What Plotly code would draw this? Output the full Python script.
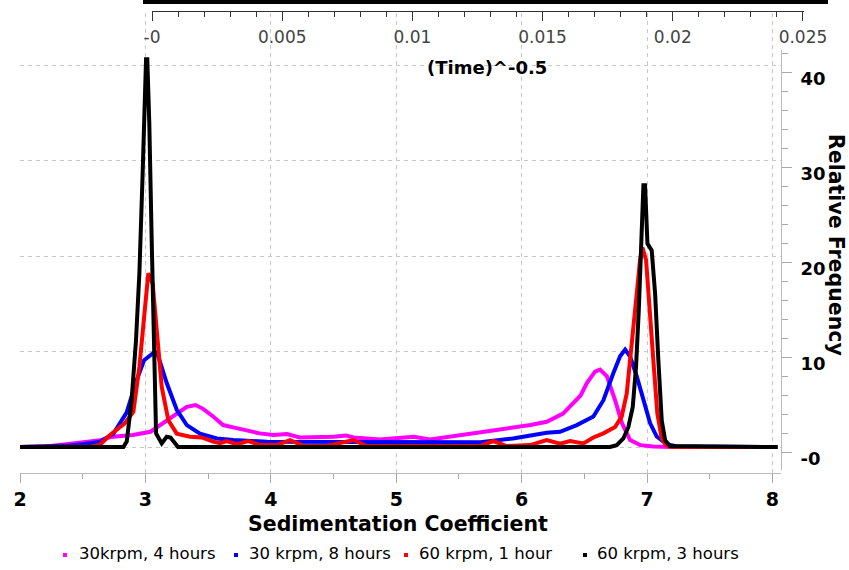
import plotly.graph_objects as go

W, H = 849, 570

# ---------------- data ----------------
series_names = ["30krpm, 4 hours", "30 krpm, 8 hours", "60 krpm, 1 hour", "60 krpm, 3 hours"]
series_colors = ["#ff00ff", "#0000ff", "#ff0000", "#000000"]

mag_x = [1.98, 2.2, 2.3, 2.4, 2.5, 2.64, 2.72, 2.8, 2.9, 3.04, 3.14, 3.25, 3.33, 3.40, 3.46, 3.54, 3.62, 3.70,
         3.81, 3.91, 4.02, 4.13, 4.23, 4.37, 4.5, 4.6, 4.66, 4.87, 5.14, 5.27, 5.54, 5.80, 6.07, 6.2, 6.33,
         6.41, 6.47, 6.52, 6.585, 6.625, 6.68, 6.745, 6.80, 6.865, 6.945, 7.05, 7.2, 8.04]
mag_y = [0, 0.05, 0.2, 0.35, 0.5, 0.7, 1.05, 1.1, 1.26, 1.6, 2.5, 3.5, 4.2, 4.4, 4.0, 3.2, 2.3, 2.06,
         1.78, 1.43, 1.26, 1.36, 1.0, 1.0, 1.08, 1.2, 1.0, 0.8, 1.08, 0.8, 1.26, 1.78, 2.3, 2.65, 3.5,
         4.6, 5.4, 6.7, 7.9, 8.1, 7.4, 4.9, 2.5, 0.73, 0.2, 0.05, 0, 0]

blu_x = [1.98, 2.3, 2.4, 2.5, 2.6, 2.64, 2.745, 2.85, 2.93, 2.99, 3.077, 3.1, 3.17, 3.25, 3.33, 3.435,
         3.57, 3.70, 3.97, 5.67, 5.93, 6.2, 6.306, 6.44, 6.572, 6.652, 6.73, 6.785, 6.825, 6.864, 6.918,
         6.97, 7.024, 7.077, 7.157, 7.24, 8.04]
blu_y = [0, 0.05, 0.15, 0.3, 0.45, 0.56, 1.4, 3.6, 7.0, 9.1, 10.0, 9.6, 6.7, 3.9, 2.3, 1.4,
         0.9, 0.73, 0.56, 0.5, 0.9, 1.5, 1.6, 2.3, 3.2, 4.9, 7.7, 9.5, 10.2, 9.5, 7.4,
         4.9, 2.5, 1.1, 0.3, 0.05, 0]

red_x = [1.98, 2.5, 2.58, 2.638, 2.718, 2.837, 2.904, 2.952, 2.989, 3.023, 3.058, 3.09, 3.13, 3.183, 3.25,
         3.356, 3.449, 3.54, 3.595, 3.648, 3.728, 3.821, 3.914, 4.047, 4.153, 4.259, 4.446, 4.658, 4.765,
         5.668, 5.774, 5.881, 6.067, 6.2, 6.306, 6.386, 6.466, 6.492, 6.572, 6.652, 6.745, 6.798, 6.838,
         6.878, 6.918, 6.944, 6.963, 6.992, 7.018, 7.05, 7.082, 7.117, 7.152, 7.19, 8.04]
red_y = [0, 0, 0.05, 0.25, 1.26, 2.5, 3.7, 8.4, 14.0, 18.2, 17.1, 11.9, 6.3, 2.8, 1.4,
         1.08, 1.0, 0.56, 0.4, 0.63, 0.31, 0.63, 0.21, 0.21, 0.73, 0.14, 0.1, 0.73, 0.1,
         0.1, 0.63, 0.1, 0.2, 0.73, 0.35, 0.63, 0.45, 0.38, 1.0, 1.43, 2.1, 3.2, 5.6,
         10.5, 16.1, 19.6, 20.9, 19.6, 15.4, 9.1, 3.5, 0.9, 0.2, 0, 0]

blk_x = [1.98, 2.824, 2.851, 2.89, 2.925, 2.952, 2.978, 3.005, 3.015, 3.031, 3.05, 3.069, 3.085, 3.13,
         3.17, 3.20, 3.26, 6.705, 6.758, 6.811, 6.851, 6.886, 6.912, 6.934, 6.952, 6.971, 6.984, 7.003,
         7.037, 7.064, 7.09, 7.117, 7.144, 7.183, 8.04]
blk_y = [0, 0, 0.56, 4.9, 11.2, 18.2, 28.7, 40.6, 40.6, 33.9, 21.7, 9.5, 1.43, 0.38,
         1.08, 1.0, 0, 0, 0.2, 0.9, 2.1, 4.2, 8.4, 14.3, 21.3, 27.4, 27.4, 21.3,
         20.6, 16.1, 9.1, 2.8, 0.7, 0.1, 0]

xs = [mag_x, blu_x, red_x, blk_x]
ys = [mag_y, blu_y, red_y, blk_y]

bottom_ticks = [2, 3, 4, 5, 6, 7, 8]
right_ticks = [0, 10, 20, 30, 40]
right_ticktext = ["-0", "10", "20", "30", "40"]
top_ticks = [0, 0.005, 0.01, 0.015, 0.02, 0.025]
top_ticktext = ["-0", "0.005", "0.01", "0.015", "0.02", "0.025"]

x_title = "Sedimentation Coefficient"
y_title = "Relative Frequency"
top_title = "(Time)^-0.5"

# ---------------- helpers ----------------
def px_x(p):
    return p / W

def px_y(p):
    return 1 - p / H

FONT = "DejaVu Sans"
GRID = "#c8c8c8"

fig = go.Figure()
for name, col, x, y in zip(series_names, series_colors, xs, ys):
    fig.add_trace(go.Scatter(x=x, y=y, mode="lines", name=name,
                             line=dict(color=col, width=4), showlegend=False))

# invisible traces so that the secondary axes are drawn
fig.add_trace(go.Scatter(x=[0.01], y=[-100], xaxis="x2", yaxis="y2", mode="markers",
                         marker=dict(opacity=0), showlegend=False, hoverinfo="skip"))
fig.add_trace(go.Scatter(x=[0.01], y=[-100], xaxis="x2", yaxis="y3", mode="markers",
                         marker=dict(opacity=0), showlegend=False, hoverinfo="skip"))

Y2_RANGE = [-1.79, 42.42]
LABEL_SHIFT = 0.6  # right-axis labels sit a little below their ticks

fig.update_layout(
    width=W, height=H, autosize=False,
    margin=dict(l=0, r=0, t=0, b=0, autoexpand=False),
    paper_bgcolor="white", plot_bgcolor="rgba(0,0,0,0)",
    showlegend=False,
    xaxis=dict(domain=[px_x(20), px_x(781)], range=[2, 8.068], anchor="y", automargin=False,
               tickvals=bottom_ticks, ticks="outside", ticklen=9, tickcolor="#aaaaaa",
               showline=True, linecolor="#bbbbbb", linewidth=1,
               showgrid=True, gridcolor=GRID, griddash="4px,4px", gridwidth=1,
               zeroline=False, ticklabelstandoff=0,
               tickfont=dict(family=FONT, size=19, color="black", weight="bold"),
               minor=dict(tick0=2, dtick=0.5, ticks="outside", ticklen=5, tickcolor="#aaaaaa",
                          showgrid=False)),
    yaxis=dict(domain=[px_y(473), px_y(13)], range=[-2.72, 45.45], anchor="x", automargin=False,
               tickvals=right_ticks, showticklabels=False, ticks="",
               showline=False, zeroline=False,
               showgrid=True, gridcolor=GRID, griddash="4px,4px", gridwidth=1),
    xaxis2=dict(domain=[px_x(151.5), px_x(803.5)], range=[-0.00002, 0.02502], automargin=False,
                anchor="free", position=px_y(11), side="bottom",
                tickvals=top_ticks, ticktext=top_ticktext,
                ticks="outside", ticklen=9, tickcolor="#333333",
                showline=True, linecolor="#333333", linewidth=1,
                showgrid=False, zeroline=False, ticklabelstandoff=2,
                tickfont=dict(family=FONT, size=17, color="#444444"),
                minor=dict(tick0=0, dtick=0.001, ticks="outside", ticklen=5,
                           tickcolor="#333333", showgrid=False)),
    yaxis2=dict(domain=[px_y(470), px_y(50)], range=Y2_RANGE, automargin=False,
                anchor="free", position=px_x(781), side="right",
                tickvals=right_ticks, showticklabels=False,
                ticks="outside", ticklen=10, tickcolor="#aaaaaa",
                showline=True, linecolor="#bbbbbb", linewidth=1,
                showgrid=False, zeroline=False,
                minor=dict(tickmode="linear", tick0=0, dtick=2, ticks="outside", ticklen=6,
                           tickcolor="#aaaaaa", showgrid=False)),
    yaxis3=dict(domain=[px_y(470), px_y(50)],
                range=[Y2_RANGE[0] + LABEL_SHIFT, Y2_RANGE[1] + LABEL_SHIFT], automargin=False,
                anchor="free", position=px_x(781), side="right",
                tickvals=right_ticks, ticktext=right_ticktext,
                ticks="outside", ticklen=10, tickcolor="rgba(0,0,0,0)",
                showline=False, showgrid=False, zeroline=False, ticklabelstandoff=5,
                tickfont=dict(family=FONT, size=18, color="black", weight="bold")),
)

annotations = [
    dict(text=x_title, x=px_x(398), y=px_y(524), xref="paper", yref="paper",
         showarrow=False, xanchor="center", yanchor="middle",
         font=dict(family=FONT, size=20.5, color="black", weight="bold")),
    dict(text=top_title, x=px_x(487), y=px_y(67), xref="paper", yref="paper",
         showarrow=False, xanchor="center", yanchor="middle",
         font=dict(family=FONT, size=18, color="black", weight="bold")),
    dict(text=y_title, x=px_x(836), y=px_y(245), xref="paper", yref="paper",
         showarrow=False, xanchor="center", yanchor="middle", textangle=90,
         font=dict(family=FONT, size=20.5, color="black", weight="bold")),
]

shapes = [
    dict(type="rect", xref="paper", yref="paper", x0=px_x(143), x1=px_x(828),
         y0=px_y(4), y1=px_y(0), fillcolor="black", line=dict(width=0)),
]

legend_marker_x = [65, 236, 406, 585]
legend_text_x = [77, 247, 417, 595]
for name, col, mx, tx in zip(series_names, series_colors, legend_marker_x, legend_text_x):
    annotations.append(dict(text=name, x=px_x(tx), y=px_y(553), xref="paper", yref="paper",
                            showarrow=False, xanchor="left", yanchor="middle",
                            font=dict(family=FONT, size=16.5, color="black")))
    shapes.append(dict(type="rect", xref="paper", yref="paper",
                       x0=px_x(mx - 2), x1=px_x(mx + 2), y0=px_y(557), y1=px_y(553),
                       fillcolor=col, line=dict(width=0)))

fig.update_layout(annotations=annotations, shapes=shapes)
fig.write_html("out.html")
